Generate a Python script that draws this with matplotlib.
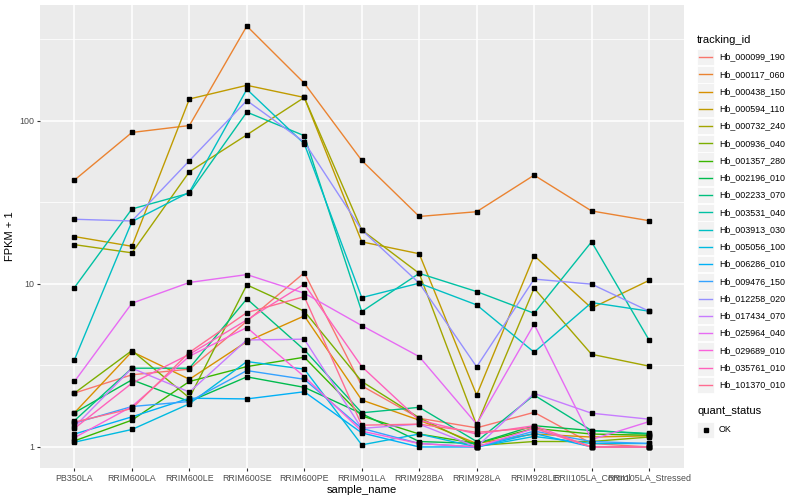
import numpy as np
import matplotlib
matplotlib.use('Agg')
import matplotlib.pyplot as plt
from matplotlib.patches import Rectangle
from matplotlib.lines import Line2D

plt.rcParams['font.family'] = ['Liberation Sans', 'DejaVu Sans']

samples = ['PB350LA', 'RRIM600LA', 'RRIM600LE', 'RRIM600SE', 'RRIM600PE', 'RRIM901LA',
           'RRIM928BA', 'RRIM928LA', 'RRIM928LE', 'RRII105LA_Control', 'RRII105LA_Stressed']

tracking_ids = ['Hb_000099_190', 'Hb_000117_060', 'Hb_000438_150', 'Hb_000594_110',
                'Hb_000732_240', 'Hb_000936_040', 'Hb_001357_280', 'Hb_002196_010',
                'Hb_002233_070', 'Hb_003531_040', 'Hb_003913_030', 'Hb_005056_100',
                'Hb_006286_010', 'Hb_009476_150', 'Hb_012258_020', 'Hb_017434_070',
                'Hb_025964_040', 'Hb_029689_010', 'Hb_035761_010', 'Hb_101370_010']

# ggplot hue palette, 20 levels
colors = ['#F8766D', '#EA8331', '#D89000', '#C09B00', '#A3A500', '#7CAE00', '#39B600',
          '#00BB4E', '#00BF7D', '#00C1A3', '#00BFC4', '#00BAE0', '#00B0F6', '#35A2FF',
          '#9590FF', '#C77CFF', '#E76BF3', '#FA62DB', '#FF62BC', '#FF6C91']

# FPKM + 1, one row per tracking_id, columns follow samples
fpkm = [
    [2.14, 2.77, 3.0, 5.9, 11.7, 2.37, 1.5, 1.31, 1.63, 1.05, 1.0],
    [43.3, 84.8, 93.5, 381, 170, 57.1, 25.9, 27.7, 46.4, 28.0, 24.4],
    [1.62, 3.84, 2.6, 4.43, 6.36, 1.94, 1.46, 1.05, 1.2, 1.15, 1.17],
    [19.5, 17.0, 136, 165, 139, 18.1, 15.3, 2.08, 14.9, 7.1, 10.5],
    [17.4, 15.5, 48.7, 82, 139, 21.4, 11.6, 1.36, 9.4, 3.7, 3.13],
    [2.14, 3.9, 2.0, 9.86, 6.8, 2.52, 1.51, 1.02, 1.08, 1.08, 1.15],
    [1.09, 1.46, 2.52, 3.11, 3.55, 1.55, 1.2, 1.05, 1.3, 1.2, 1.18],
    [1.62, 2.58, 1.9, 2.69, 2.32, 1.6, 1.08, 1.05, 1.35, 1.26, 1.2],
    [1.45, 3.04, 3.04, 8.09, 3.94, 1.62, 1.75, 1.08, 2.08, 1.26, 1.21],
    [9.5, 28.8, 36.0, 113, 81, 6.76, 11.6, 8.97, 6.6, 18.1, 4.53],
    [3.43, 24.1, 36.5, 156, 72.3, 8.24, 10.1, 7.43, 3.81, 7.68, 6.8],
    [1.07, 1.28, 1.84, 3.34, 3.0, 1.03, 1.2, 1.0, 1.16, 1.05, 1.05],
    [1.2, 1.53, 1.99, 1.97, 2.18, 1.22, 1.0, 1.0, 1.21, 1.0, 1.0],
    [1.40, 1.77, 1.9, 2.94, 2.6, 1.3, 1.05, 1.0, 1.25, 1.08, 1.05],
    [24.9, 24.3, 56.9, 133, 74, 21.4, 10.1, 3.1, 10.7, 9.96, 6.8],
    [1.33, 3.04, 2.17, 4.53, 4.58, 1.3, 1.38, 1.0, 2.13, 1.61, 1.48],
    [2.52, 7.61, 10.2, 11.4, 8.77, 5.55, 3.58, 1.38, 5.66, 1.11, 1.43],
    [1.14, 1.77, 3.6, 5.4, 2.7, 1.25, 1.05, 1.0, 1.3, 1.0, 1.0],
    [1.3, 2.46, 3.7, 6.01, 9.96, 3.11, 1.46, 1.2, 1.35, 1.0, 1.0],
    [1.42, 1.72, 3.8, 6.67, 8.35, 1.36, 1.38, 1.23, 1.31, 1.0, 1.0],
]

quant_levels = ['OK']


def main():
    fig = plt.figure(figsize=(8, 5), dpi=100)
    W, H = 800, 500
    left, right, top, bottom = 40, 683.5, 5, 468
    ax = fig.add_axes([left / W, 1 - bottom / H, (right - left) / W, (bottom - top) / H])
    ax.set_facecolor('#EBEBEB')

    x = np.arange(len(samples))
    for vals, col in zip(fpkm, colors):
        ax.plot(x, vals, color=col, lw=1.0, zorder=2, solid_capstyle='butt')
    for vals in fpkm:
        ax.plot(x, vals, ls='none', marker='s', ms=3.0, color='black', zorder=3)

    ax.set_yscale('log')
    allv = np.array(fpkm)
    lo, hi = np.log10(allv.min()), np.log10(allv.max())
    pad = 0.05 * (hi - lo)
    ax.set_ylim(10 ** (lo - pad), 10 ** (hi + pad))
    ax.set_xlim(-0.6, len(samples) - 0.4)

    ax.set_yticks([1, 10, 100])
    ax.set_yticklabels(['1', '10', '100'])
    ax.set_yticks([10 ** 0.5, 10 ** 1.5, 10 ** 2.5], minor=True)
    ax.yaxis.set_minor_formatter(matplotlib.ticker.NullFormatter())
    ax.set_xticks(x)
    ax.set_xticklabels(samples)

    ax.grid(True, which='major', color='white', lw=1.1)
    ax.grid(True, which='minor', axis='y', color='white', lw=0.55)
    ax.set_axisbelow(True)
    for s in ax.spines.values():
        s.set_visible(False)
    ax.tick_params(which='major', length=2.5, width=0.8, color='#333333',
                   labelsize=6.4, labelcolor='#4D4D4D', pad=1.5)
    ax.tick_params(which='minor', length=0)

    ax.set_xlabel('sample_name', fontsize=8, labelpad=2)
    ax.set_ylabel('FPKM + 1', fontsize=8, labelpad=3)

    # legend panel drawn in pixel coordinates
    lg = fig.add_axes([0, 0, 1, 1], facecolor='none')
    lg.set_xlim(0, W)
    lg.set_ylim(H, 0)
    lg.axis('off')

    lg.text(697, 40, 'tracking_id', fontsize=8, va='center', ha='left')
    step = 17.26
    for i, (name, col) in enumerate(zip(tracking_ids, colors)):
        yc = 57 + step * i
        lg.add_patch(Rectangle((697, yc - 8.3), 17, 16.6, facecolor='#F2F2F2', edgecolor='white', lw=0.6))
        lg.add_line(Line2D([698.7, 712.3], [yc, yc], color=col, lw=1.0))
        lg.text(719, yc, name, fontsize=6.4, va='center', ha='left')

    lg.text(697, 411, 'quant_status', fontsize=8, va='center', ha='left')
    for j, lev in enumerate(quant_levels):
        yc = 430 + step * j
        lg.add_patch(Rectangle((697, yc - 8.3), 17, 16.6, facecolor='#F2F2F2', edgecolor='white', lw=0.6))
        lg.plot([705.5], [yc], marker='s', ms=3.0, color='black', ls='none')
        lg.text(719, yc, lev, fontsize=6.4, va='center', ha='left')

    fig.savefig('out.png', dpi=100)


if __name__ == "__main__":
    main()
